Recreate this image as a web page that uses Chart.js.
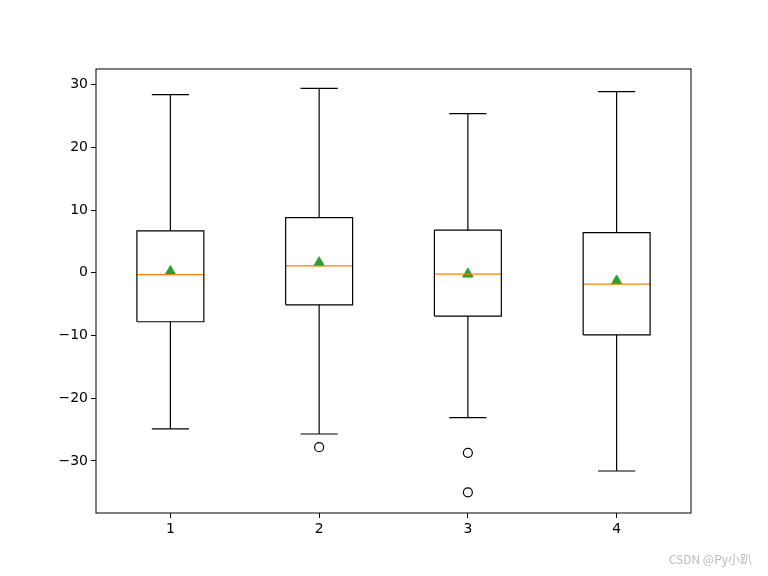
<!DOCTYPE html>
<html>
<head>
<meta charset="utf-8">
<script src="https://cdn.jsdelivr.net/npm/chart.js@4/dist/chart.umd.min.js"></script>
<style>
  html, body { margin: 0; padding: 0; background: #fff; }
  #wrap { width: 768px; height: 576px; }
</style>
</head>
<body>
<div id="wrap"><canvas id="c"></canvas></div>
<script>
// box stats
const positions = [1, 2, 3, 4];
const whiskerLow = [-24.9, -25.7, -23.1, -31.6];
const q1 = [-7.8, -5.1, -6.9, -9.9];
const medians = [-0.3, 1.1, -0.2, -1.8];
const q3 = [6.7, 8.8, 6.8, 6.4];
const whiskerHigh = [28.4, 29.4, 25.4, 28.9];
const means = [0.2, 1.6, -0.2, -1.3];
const outliers = [[], [-27.8], [-28.7, -35.0], []];
const yTicks = [-30, -20, -10, 0, 10, 20, 30];

const boxHalf = 0.225;
const capHalf = 0.125;

const seg = (pts, color) => ({
  type: 'line', data: pts, borderColor: color, borderWidth: 1.2,
  pointRadius: 0, showLine: true, fill: false, tension: 0
});

const datasets = [];
positions.forEach((x, i) => {
  datasets.push(seg([
    {x: x - boxHalf, y: q1[i]}, {x: x + boxHalf, y: q1[i]},
    {x: x + boxHalf, y: q3[i]}, {x: x - boxHalf, y: q3[i]},
    {x: x - boxHalf, y: q1[i]}], '#000'));
  datasets.push(seg([{x: x, y: q3[i]}, {x: x, y: whiskerHigh[i]}], '#000'));
  datasets.push(seg([{x: x, y: q1[i]}, {x: x, y: whiskerLow[i]}], '#000'));
  datasets.push(seg([{x: x - capHalf, y: whiskerHigh[i]}, {x: x + capHalf, y: whiskerHigh[i]}], '#000'));
  datasets.push(seg([{x: x - capHalf, y: whiskerLow[i]}, {x: x + capHalf, y: whiskerLow[i]}], '#000'));
  datasets.push(seg([{x: x - boxHalf, y: medians[i]}, {x: x + boxHalf, y: medians[i]}], '#ff7f0e'));
});
datasets.push({
  type: 'scatter',
  data: positions.flatMap((x, i) => outliers[i].map(v => ({x: x, y: v}))),
  pointStyle: 'circle', pointRadius: 4.5, backgroundColor: '#fff',
  borderColor: '#000', borderWidth: 1.2
});
datasets.push({
  type: 'scatter',
  data: positions.map((x, i) => ({x: x, y: means[i]})),
  pointStyle: 'triangle', pointRadius: 6, backgroundColor: '#2ca02c',
  borderColor: '#2ca02c', borderWidth: 1
});

const frame = {
  id: 'frame',
  afterDatasetsDraw(chart) {
    const a = chart.chartArea, ctx = chart.ctx;
    ctx.save();
    ctx.strokeStyle = '#000'; ctx.lineWidth = 1;
    ctx.strokeRect(a.left, a.top, a.right - a.left, a.bottom - a.top);
    ctx.font = '12px "Noto Sans CJK SC"';
    ctx.fillStyle = '#bbb';
    ctx.textAlign = 'right';
    ctx.fillText('CSDN @Py小趴', 752, 564);
    ctx.restore();
  }
};

const tickFont = { family: 'DejaVu Sans', size: 14 };
new Chart(document.getElementById('c'), {
  type: 'scatter',
  data: { datasets },
  plugins: [frame],
  options: {
    responsive: true, maintainAspectRatio: false, animation: false,
    layout: { padding: { top: 69, right: 77, left: 0, bottom: 0 } },
    plugins: { legend: { display: false }, tooltip: { enabled: false } },
    scales: {
      x: {
        type: 'linear', min: 0.5, max: 4.5,
        afterBuildTicks: ax => { ax.ticks = positions.map(v => ({value: v})); },
        afterFit: ax => { ax.height = 63; },
        grid: { drawOnChartArea: false, tickLength: 5, color: '#000' },
        border: { display: false },
        ticks: { color: '#000', font: tickFont, padding: 3 }
      },
      y: {
        min: -38.3, max: 32.5,
        afterBuildTicks: ax => { ax.ticks = yTicks.map(v => ({value: v})); },
        afterFit: ax => { ax.width = 96; },
        grid: { drawOnChartArea: false, tickLength: 5, color: '#000' },
        border: { display: false },
        ticks: { color: '#000', font: tickFont, padding: 3,
          callback: v => String(v).replace('-', '\u2212') }
      }
    }
  }
});
</script>
</body>
</html>
